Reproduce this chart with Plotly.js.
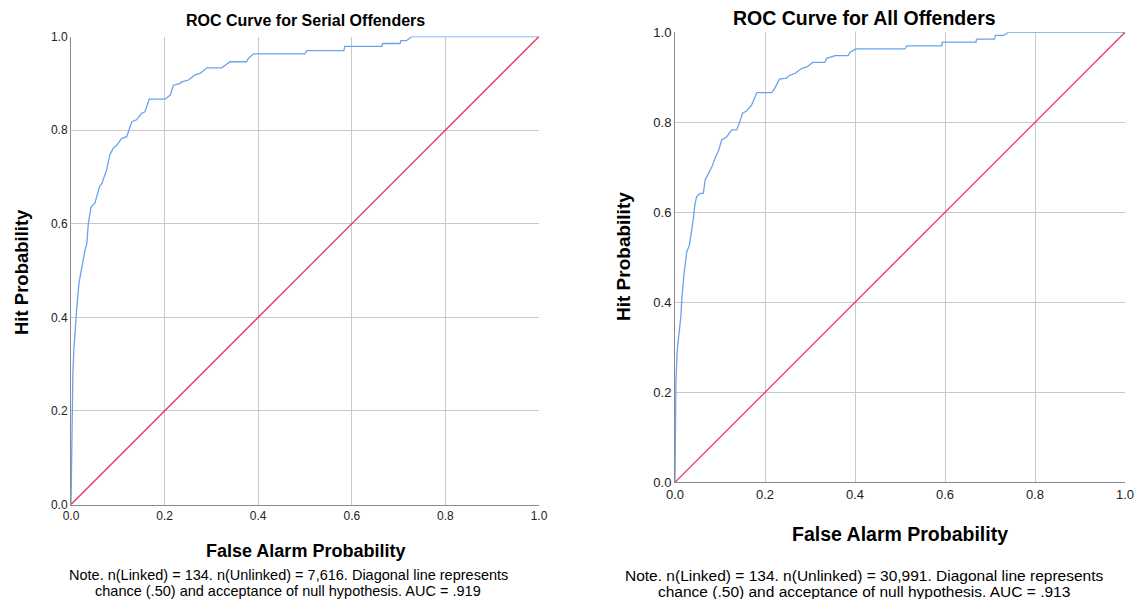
<!DOCTYPE html>
<html>
<head>
<meta charset="utf-8">
<script src="https://cdn.plot.ly/plotly-3.0.1.min.js"></script>
<style>html,body{margin:0;padding:0;background:#fff;}#chart{width:1136px;height:599px;}</style>
</head>
<body>
<div id="chart"></div>
<script>
// Serial offenders ROC curve (false alarm, hit)
const serialFA  = [0,0.001,0.003,0.004,0.006,0.009,0.012,0.017,0.023,0.026,0.030,0.034,0.037,0.043,0.051,0.061,0.066,0.076,0.083,0.090,0.098,0.108,0.119,0.130,0.140,0.151,0.158,0.167,0.201,0.212,0.219,0.233,0.237,0.251,0.265,0.276,0.290,0.322,0.340,0.375,0.379,0.390,0.500,0.504,0.583,0.585,0.664,0.666,0.703,0.705,0.717,0.728,1.0];
const serialHit = [0,0.116,0.223,0.280,0.330,0.387,0.416,0.473,0.501,0.522,0.544,0.558,0.601,0.636,0.644,0.679,0.686,0.715,0.747,0.761,0.768,0.782,0.786,0.818,0.822,0.836,0.839,0.866,0.866,0.875,0.896,0.900,0.903,0.907,0.918,0.921,0.933,0.933,0.946,0.946,0.953,0.963,0.963,0.970,0.970,0.979,0.979,0.985,0.985,0.991,0.991,1.0,1.0];
// All offenders ROC curve
const allFA  = [0,0.001,0.002,0.004,0.005,0.009,0.013,0.015,0.018,0.020,0.024,0.026,0.032,0.037,0.041,0.044,0.048,0.056,0.063,0.067,0.074,0.082,0.089,0.096,0.104,0.115,0.126,0.137,0.144,0.150,0.159,0.170,0.182,0.215,0.222,0.232,0.248,0.252,0.267,0.282,0.293,0.306,0.333,0.337,0.356,0.385,0.389,0.402,0.511,0.515,0.593,0.594,0.669,0.670,0.710,0.712,0.730,0.741,1.0];
const allHit = [0,0.146,0.220,0.272,0.294,0.331,0.368,0.405,0.457,0.464,0.494,0.512,0.527,0.557,0.587,0.616,0.635,0.642,0.642,0.672,0.687,0.701,0.720,0.735,0.761,0.768,0.783,0.783,0.801,0.820,0.825,0.838,0.866,0.866,0.876,0.896,0.898,0.903,0.909,0.920,0.923,0.933,0.933,0.942,0.948,0.948,0.956,0.963,0.963,0.970,0.970,0.978,0.978,0.985,0.985,0.993,0.993,1.0,1.0];
const diagonal = [0,1];
const tickVals = [0,0.2,0.4,0.6,0.8,1.0];
const tickText = ['0.0','0.2','0.4','0.6','0.8','1.0'];

const W = 1136, H = 599;
const px = x => x / W;
const py = y => 1 - y / H;

const blue = '#6aa3ea', red = '#e4375f';
const traces = [
  {x: serialFA, y: serialHit, xaxis:'x', yaxis:'y', mode:'lines', line:{color:blue, width:1.3}, hoverinfo:'skip'},
  {x: diagonal, y: diagonal, xaxis:'x', yaxis:'y', mode:'lines', line:{color:red, width:1.3}, hoverinfo:'skip'},
  {x: allFA, y: allHit, xaxis:'x2', yaxis:'y2', mode:'lines', line:{color:blue, width:1.3}, hoverinfo:'skip'},
  {x: diagonal, y: diagonal, xaxis:'x2', yaxis:'y2', mode:'lines', line:{color:red, width:1.3}, hoverinfo:'skip'}
];

function ax(domain, anchor, fs) {
  return {domain: domain, anchor: anchor, range:[0,1], tickvals: tickVals, ticktext: tickText,
    showgrid:true, gridcolor:'#c9c9c9', gridwidth:1, zeroline:false,
    showline:true, linecolor:'#8a8a8a', linewidth:1, ticks:'', fixedrange:true,
    tickfont:{family:'Liberation Sans, Arial, sans-serif', size:fs, color:'#222'}};
}

const layout = {
  width: W, height: H, margin:{l:0,r:0,t:0,b:0}, showlegend:false,
  paper_bgcolor:'#fff', plot_bgcolor:'#fff',
  xaxis: ax([px(71), px(539)], 'y', 12),
  yaxis: ax([py(504.5), py(36.5)], 'x', 12),
  xaxis2: ax([px(675), px(1125)], 'y2', 13),
  yaxis2: ax([py(482.3), py(32.3)], 'x2', 13),
  annotations: []
};

const F = 'Liberation Sans, Arial, sans-serif';
function ann(text, x, y, size, bold, angle) {
  layout.annotations.push({text: bold ? '<b>'+text+'</b>' : text, x: px(x), y: py(y), xref:'paper', yref:'paper',
    showarrow:false, xanchor:'center', yanchor:'middle', textangle: angle||0, borderpad:0,
    font:{family:F, size:size, color:'#000'}});
}
ann('ROC Curve for Serial Offenders', 306, 21, 16, true);
ann('ROC Curve for All Offenders', 864, 18, 19.5, true);
ann('Hit Probability', 21, 272, 18.5, true, -90);
ann('Hit Probability', 623, 257, 19, true, -90);
ann('False Alarm Probability', 305, 551, 18, true);
ann('False Alarm Probability', 900, 534, 19.5, true);
ann('Note. n(Linked) = 134. n(Unlinked) = 7,616. Diagonal line represents', 288, 575, 14.5, false);
ann('chance (.50) and acceptance of null hypothesis. AUC = .919', 288, 591, 14.5, false);
ann('Note. n(Linked) = 134. n(Unlinked) = 30,991. Diagonal line represents', 864, 575, 15.5, false);
ann('chance (.50) and acceptance of null hypothesis. AUC = .913', 864, 591.5, 15.5, false);

Plotly.newPlot('chart', traces, layout, {staticPlot:true, displayModeBar:false});
</script>
</body>
</html>
